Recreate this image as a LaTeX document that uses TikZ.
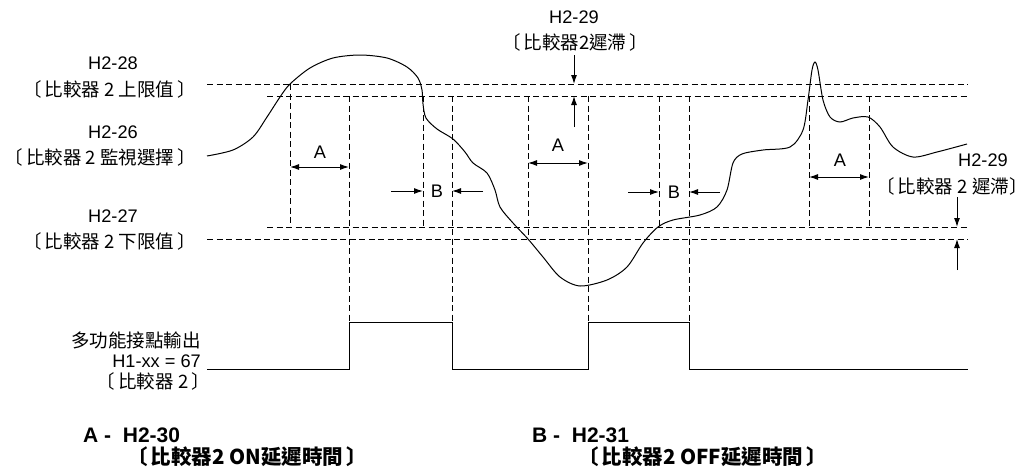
\documentclass[tikz,border=0pt]{standalone}
\usepackage{fontspec}
\setmainfont{Liberation Sans}
\newfontfamily\cjk{Noto Sans CJK TC}
\usetikzlibrary{arrows.meta}
\newcommand{\lb}{〔\hspace{3pt}}
\newcommand{\rb}{\hspace{3pt}〕}

\begin{document}
\begin{tikzpicture}[
  x=1pt,y=-1pt,>={Latex[length=9pt,width=6pt]},
  lbl/.style={inner sep=0pt,font=\fontsize{18.2}{21}\selectfont},
  cjklbl/.style={inner sep=0pt,font=\cjk\fontsize{18.5}{21}\selectfont},
  legend/.style={inner sep=0pt,anchor=west,font=\bfseries\fontsize{21}{24}\selectfont},
  legendcjk/.style={legend,font=\cjk\bfseries\fontsize{20.5}{24}\selectfont},
  level/.style={dash pattern=on 6pt off 3.5pt,line width=0.9pt},
  signal/.style={line width=1pt},
  dimarrow/.style={->,line width=1pt}
]
\useasboundingbox (0,0) rectangle (1029,469);

% comparator levels
\draw[level] (207,84) -- (968,84);
\draw[level] (267,96) -- (968,96);
\draw[level] (267,227) -- (968,227);
\draw[level] (207,239) -- (968,239);
\foreach \x/\ya/\yb in {290/84/227, 349/96/322, 423/96/227, 452/96/322,
    528/96/239, 588/96/322, 659/96/227, 689/96/322, 809/96/227, 869/96/227}
  \draw[level] (\x,\ya) -- (\x,\yb);

% monitored value
\draw[signal] plot[smooth,tension=0.5] coordinates {
  (207,156) (233,150) (253,137) (267,117) (280,97) (290,84) (310,68)
  (333,58) (360,55) (387,58) (407,67) (418,78) (422,90) (423,104)
  (426,118) (437,129) (453,139) (465,152) (473,163) (487,173) (495,190)
  (500,207) (513,223) (528,239) (543,257) (560,277) (580,286) (607,280)
  (627,267) (643,243) (658,227) (673,220) (700,215) (717,207) (727,190)
  (733,163) (742,154) (763,150) (790,147) (803,130) (808,100) (812,70)
  (815,62) (818,70) (823,100) (830,117) (840,122) (853,118) (868,117)
  (880,127) (893,147) (913,157) (937,152) (967,144)};

% output
\draw[signal] (207,369) -| (349,322) -| (452,369) -| (588,322) -| (689,369) -- (968,369);

% delay times
\draw[dimarrow,<->] (290,167) -- (349,167);
\node[lbl] (ta1) at (320,152) {A};
\draw[dimarrow] (391,191) -- (423,191);
\draw[dimarrow] (483,191) -- (452,191);
\node[lbl] (tb1) at (437,191) {B};
\draw[dimarrow,<->] (528,163) -- (588,163);
\node[lbl] (ta2) at (558,145) {A};
\draw[dimarrow] (628,192) -- (659,192);
\draw[dimarrow] (720,192) -- (689,192);
\node[lbl] (tb2) at (674,192) {B};
\draw[dimarrow,<->] (809,177) -- (869,177);
\node[lbl] (ta3) at (840,160) {A};

% hysteresis
\node[lbl] (hys1) at (574,17) {H2-29};
\node[cjklbl] (hys1txt) at (575,42) {\lb 比較器2遲滯\rb};
\draw[dimarrow] (574,55) -- (574,84);
\draw[dimarrow] (574,127) -- (574,96);
\node[lbl] (hys2) at (983,160) {H2-29};
\node[cjklbl] (hys2txt) at (952,186) {\lb 比較器 2 遲滯〕};
\draw[dimarrow] (957,197) -- (957,227);
\draw[dimarrow] (957,270) -- (957,239);

% left labels
\node[lbl] (upper) at (113,63) {H2-28};
\node[cjklbl,anchor=east] (uppertxt) at (196,89) {\lb 比較器 2 上限值\rb};
\node[lbl] (monitor) at (113,132) {H2-26};
\node[cjklbl,anchor=east] (monitortxt) at (196,157) {\lb 比較器 2 監視選擇\rb};
\node[lbl] (lower) at (113,216) {H2-27};
\node[cjklbl,anchor=east] (lowertxt) at (196,241) {\lb 比較器 2 下限值\rb};
\node[cjklbl,anchor=east] (out) at (201,340) {多功能接點輸出};
\node[lbl,anchor=east] (outfn) at (201,361) {H1-xx = 67};
\node[cjklbl,anchor=east] (outtxt) at (210,381) {\lb 比較器 2\rb};

% legend
\node[legend] (keya) at (83,435) {A -\ \ H2-30};
\node[legendcjk] (keyatxt) at (127,457) {\lb 比較器2 ON延遲時間\rb};
\node[legend] (keyb) at (532,435) {B -\ \ H2-31};
\node[legendcjk] (keybtxt) at (578,457) {\lb 比較器2 OFF延遲時間\rb};
\end{tikzpicture}
\end{document}
